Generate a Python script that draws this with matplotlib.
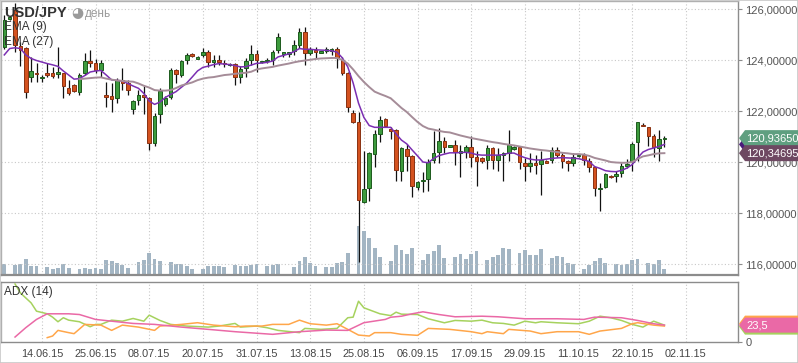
import matplotlib
matplotlib.use("Agg")
import matplotlib.pyplot as plt
from matplotlib.patches import Polygon
from matplotlib.transforms import blended_transform_factory
import numpy as np

plt.rcParams['font.family'] = ['Liberation Sans', 'DejaVu Sans']

W, H = 798, 363

# daily candles USD/JPY, bar 0 .. 123
opens = [124.51, 125.62, 125.95, 124.55, 124.46, 123.32, 123.50, 123.28, 123.50, 123.48,
         123.45, 123.48, 122.89, 123.02, 122.76, 123.50, 123.97, 123.90, 123.61, 122.63,
         122.59, 122.50, 123.22, 123.11, 122.07, 122.43, 122.63, 122.50, 120.75, 121.88,
         122.26, 122.56, 123.61, 123.41, 124.00, 124.22, 124.05, 124.20, 124.33, 123.93,
         124.00, 123.90, 123.80, 123.84, 123.35, 123.67, 124.00, 124.24, 123.94, 123.96,
         124.00, 124.39, 124.23, 124.24, 124.36, 124.59, 125.09, 124.26, 124.39, 124.29,
         124.37, 124.35, 124.42, 124.00, 123.48, 121.91, 121.58, 118.44, 119.00, 120.31,
         121.10, 121.69, 121.30, 121.25, 119.66, 120.50, 120.24, 119.01, 119.25, 119.33,
         120.06, 120.40, 120.83, 120.60, 120.67, 120.37, 120.40, 120.60, 120.21, 120.14,
         120.08, 120.54, 120.08, 120.27, 120.37, 120.52, 120.58, 119.98, 119.86, 119.98,
         119.91, 120.05, 120.08, 120.47, 120.27, 120.05, 119.97, 120.22, 120.27, 120.05,
         119.79, 118.93, 119.01, 119.47, 119.46, 119.58, 119.84, 120.00, 120.77, 121.47,
         121.36, 121.02, 120.54, 120.91]
highs = [125.75, 125.72, 126.25, 124.70, 124.52, 124.13, 123.88, 123.41, 123.90, 123.74,
         124.52, 123.48, 123.22, 123.04, 123.48, 124.26, 124.39, 124.03, 124.00, 123.15,
         123.09, 123.30, 123.67, 123.22, 122.43, 122.82, 123.00, 122.56, 121.91, 122.89,
         122.60, 123.67, 123.64, 124.00, 124.26, 124.26, 124.14, 124.46, 124.39, 124.20,
         124.20, 124.00, 123.87, 123.87, 123.75, 124.07, 124.59, 124.39, 123.98, 124.07,
         124.39, 125.05, 124.33, 124.33, 124.78, 125.24, 125.28, 124.52, 124.52, 124.37,
         124.52, 124.48, 124.52, 124.13, 123.54, 122.04, 121.97, 120.42, 120.41, 121.25,
         121.80, 121.72, 121.38, 121.28, 120.60, 120.71, 120.27, 119.25, 119.60, 120.10,
         121.23, 121.33, 121.00, 120.68, 120.86, 120.67, 120.67, 121.02, 120.43, 120.18,
         120.67, 120.60, 120.54, 120.41, 121.25, 120.62, 120.63, 120.14, 120.37, 120.27,
         120.43, 120.08, 120.57, 120.58, 120.37, 120.08, 120.35, 120.30, 120.34, 120.14,
         119.82, 119.16, 119.58, 119.50, 119.66, 119.95, 120.11, 120.77, 121.58, 121.52,
         121.38, 121.09, 121.25, 121.02]
lows = [124.45, 125.58, 124.30, 123.75, 122.50, 123.15, 123.15, 123.15, 123.32, 123.28,
        123.28, 122.50, 122.63, 122.76, 122.63, 123.41, 123.74, 123.48, 123.33, 122.17,
        121.97, 122.30, 122.82, 122.63, 121.88, 122.24, 121.90, 120.47, 120.63, 121.52,
        122.20, 122.46, 123.09, 123.35, 123.85, 124.13, 124.02, 124.13, 123.74, 123.74,
        123.80, 123.74, 123.78, 123.02, 123.10, 123.35, 123.80, 123.54, 123.90, 123.88,
        123.80, 124.26, 124.10, 124.10, 124.20, 124.46, 123.80, 124.20, 124.07, 124.27,
        124.26, 124.20, 123.67, 123.41, 121.97, 121.52, 116.09, 118.40, 118.47, 119.82,
        120.80, 121.38, 120.89, 119.27, 119.27, 119.66, 118.64, 118.90, 118.83, 118.88,
        119.97, 119.97, 120.35, 120.58, 119.88, 119.42, 120.14, 119.82, 119.06, 119.98,
        119.73, 119.73, 119.65, 119.27, 120.04, 120.48, 119.73, 119.27, 119.62, 119.53,
        118.71, 119.95, 119.95, 120.18, 119.78, 119.66, 119.86, 120.20, 119.90, 119.62,
        118.67, 118.09, 118.97, 119.38, 119.20, 119.42, 119.75, 119.65, 120.02, 121.40,
        120.64, 120.21, 120.05, 120.60]
closes = [125.57, 125.68, 124.60, 124.40, 122.76, 123.57, 123.44, 123.35, 123.41, 123.38,
          123.54, 122.98, 122.72, 122.80, 123.41, 123.96, 123.90, 123.61, 123.90, 122.56,
          122.48, 123.22, 123.11, 122.82, 122.39, 122.63, 122.56, 120.73, 121.82, 122.78,
          122.52, 123.61, 123.44, 123.96, 124.20, 124.17, 124.12, 124.33, 123.93, 124.00,
          123.93, 123.83, 123.85, 123.32, 123.64, 123.96, 124.24, 124.00, 123.96, 124.00,
          124.33, 124.89, 124.30, 124.30, 124.59, 125.09, 124.26, 124.42, 124.33, 124.35,
          124.42, 124.42, 124.07, 123.48, 122.15, 121.58, 118.51, 118.94, 120.34, 121.10,
          121.65, 121.40, 121.23, 119.69, 120.54, 120.24, 119.07, 119.20, 119.30, 120.00,
          120.35, 120.83, 120.60, 120.65, 120.40, 120.43, 120.60, 120.21, 120.05, 120.04,
          120.54, 120.08, 120.27, 120.34, 120.67, 120.60, 120.01, 119.86, 119.98, 119.90,
          120.08, 119.97, 120.47, 120.27, 120.05, 119.97, 120.18, 120.27, 120.08, 119.82,
          118.97, 119.00, 119.53, 119.40, 119.53, 119.84, 119.92, 120.71, 121.56, 121.40,
          121.03, 120.58, 120.89, 120.9365]
volume = [11.3, 0, 10, 11, 16, 9, 9, 0, 8, 6,
          7, 11, 7, 0, 6, 7, 6, 7, 6, 15,
          14, 12, 10, 7, 0, 13, 15, 22, 16, 14,
          0, 13, 11, 11, 9, 6, 0, 6, 9, 9,
          9, 8, 0, 10, 9, 9, 10, 11, 0, 9,
          10, 11, 1, 0, 8, 14, 18, 12, 9, 0,
          8, 8, 12, 13, 22, 0, 49, 44, 37, 27,
          18, 0, 14, 30, 25, 21, 27, 0, 15, 21,
          24, 30, 17, 0, 18, 21, 16, 21, 24, 0,
          15, 18, 20, 27, 26, 0, 22, 25, 20, 20,
          26, 1, 17, 19, 18, 12, 11, 1, 6, 10,
          14, 17, 12, 0, 11, 10, 11, 15, 16, 0,
          12, 11, 15, 6]

ema9 = [124.20, 124.45, 124.48, 124.45, 124.20, 124.06, 123.98, 123.92, 123.86, 123.81,
        123.75, 123.57, 123.41, 123.25, 123.27, 123.39, 123.53, 123.57, 123.59, 123.41,
        123.22, 123.20, 123.18, 123.08, 122.98, 122.89, 122.69, 122.39, 122.26, 122.35,
        122.53, 122.65, 122.76, 122.93, 123.10, 123.33, 123.57, 123.71, 123.76, 123.82,
        123.86, 123.84, 123.82, 123.78, 123.73, 123.74, 123.80, 123.87, 123.88, 123.91,
        123.96, 124.12, 124.18, 124.24, 124.33, 124.45, 124.42, 124.42, 124.40, 124.39,
        124.38, 124.36, 124.31, 124.08, 123.73, 123.10, 122.31, 121.75, 121.43, 121.36,
        121.36, 121.36, 121.36, 121.10, 120.86, 120.71, 120.47, 120.24, 120.00, 119.97,
        120.14, 120.25, 120.31, 120.36, 120.36, 120.37, 120.38, 120.35, 120.29, 120.27,
        120.27, 120.27, 120.27, 120.29, 120.35, 120.35, 120.25, 120.17, 120.11, 120.08,
        120.08, 120.11, 120.14, 120.16, 120.17, 120.16, 120.15, 120.13, 120.08, 120.02,
        119.82, 119.75, 119.66, 119.63, 119.62, 119.67, 119.76, 119.90, 120.16, 120.39,
        120.49, 120.55, 120.61, 120.69]
ema27_start = 14
ema27 = [123.25, 123.27, 123.29, 123.31, 123.32, 123.27, 123.23, 123.20, 123.18, 123.16,
         123.15, 123.08, 122.99, 122.92, 122.82, 122.80, 122.80, 122.82, 122.90, 123.00,
         123.06, 123.12, 123.21, 123.27, 123.31, 123.33, 123.37, 123.41, 123.43, 123.46,
         123.48, 123.50, 123.54, 123.63, 123.67, 123.70, 123.73, 123.78, 123.82, 123.86,
         123.91, 123.95, 123.98, 124.01, 124.04, 124.06, 124.07, 124.08, 124.08, 124.00,
         123.86, 123.63, 123.37, 123.14, 122.94, 122.76, 122.67, 122.59, 122.50, 122.31,
         122.12, 121.96, 121.76, 121.57, 121.41, 121.31, 121.27, 121.22, 121.18, 121.16,
         121.10, 121.04, 120.99, 120.94, 120.90, 120.86, 120.82, 120.78, 120.75, 120.71,
         120.68, 120.65, 120.61, 120.57, 120.53, 120.50, 120.47, 120.45, 120.42, 120.39,
         120.36, 120.34, 120.31, 120.31, 120.29, 120.24, 120.16, 120.11, 120.06, 120.00,
         119.98, 119.97, 119.97, 120.00, 120.12, 120.22, 120.26, 120.31, 120.34, 120.34695]

# ADX(14) panel, read at (bar, value)
adx_green_bar = [2, 3, 5, 6, 8, 9, 10, 11, 12, 14, 16, 17, 18, 20, 22, 24, 26, 27, 29, 31,
                 34, 38, 40, 43, 44, 47, 49, 51, 55, 56, 59, 62, 64, 65, 66, 67, 70, 72, 73, 74,
                 77, 79, 82, 84, 87, 89, 91, 93, 95, 97, 99, 100, 103, 107, 109, 111, 113, 115, 117, 119,
                 121, 123]
adx_green = [79.8, 67.5, 53.9, 42.6, 39.0, 34.4, 28.1, 33.6, 30.3, 28.1, 21.3, 24.5, 24.5, 30.3, 28.9, 32.6, 28.9, 37.1, 29.9, 24.5,
             22.2, 20.8, 22.2, 25.8, 20.8, 22.2, 19.9, 16.3, 13.2, 19.0, 17.7, 19.0, 33.6, 34.4, 56.2, 47.2, 39.0, 36.5, 41.2, 38.5,
             38.0, 32.2, 26.7, 29.9, 28.9, 30.3, 26.7, 25.8, 23.5, 28.9, 26.7, 28.1, 26.7, 25.4, 28.9, 35.7, 33.6, 29.9, 24.5, 20.8,
             28.9, 23.5]
adx_pink_bar = [2, 4, 6, 8, 12, 14, 17, 20, 24, 28, 33, 38, 43, 50, 55, 60, 64, 67, 71, 72,
                74, 76, 78, 81, 84, 89, 92, 97, 103, 108, 110, 115, 118, 121, 123]
adx_pink = [7.2, 20.0, 31.3, 39.0, 39.0, 38.0, 31.3, 28.9, 25.8, 24.5, 20.8, 17.7, 14.5, 10.9, 14.5, 16.7, 16.3, 26.8, 31.3, 34.3,
            35.7, 39.0, 41.7, 38.0, 34.9, 35.7, 34.9, 32.2, 32.2, 31.3, 34.4, 33.6, 29.9, 25.4, 23.5]
adx_orange_bar = [8, 9, 10, 12, 13, 15, 18, 20, 22, 25, 28, 29, 33, 36, 39, 43, 45, 48, 50, 53,
                  55, 57, 60, 62, 64, 66, 68, 69, 72, 74, 77, 79, 83, 87, 89, 90, 93, 94, 98, 100,
                  103, 107, 109, 111, 115, 117, 118, 121, 123]
adx_orange = [6.4, 8.6, 16.3, 13.2, 11.8, 24.5, 23.5, 16.3, 23.5, 20.8, 16.3, 22.2, 24.5, 26.8, 23.5, 21.3, 22.2, 22.2, 24.5, 24.5,
              30.3, 25.4, 23.5, 25.4, 17.7, 9.9, 8.6, 13.2, 13.2, 10.9, 9.5, 19.0, 17.7, 14.5, 11.8, 14.5, 11.8, 17.7, 15.4, 11.8,
              14.5, 14.5, 10.9, 15.4, 19.0, 25.4, 26.8, 23.5, 22.2]

date_labels = ['14.06.15', '25.06.15', '08.07.15', '20.07.15', '31.07.15', '13.08.15', '25.08.15',
               '06.09.15', '17.09.15', '29.09.15', '11.10.15', '22.10.15', '02.11.15']
date_bars = list(range(7, 7 + 10 * len(date_labels), 10))
price_ticks = [116, 118, 120, 122, 124, 126]

# colours
UP, UP_EDGE = '#3d9b3d', '#1c5a1c'
DN, DN_EDGE = '#d4521f', '#8a3212'
GRID = '#c8c8c8'
SPINE = '#8c8c8c'
TXT = '#444444'

fig = plt.figure(figsize=(W / 100, H / 100), dpi=100)
fig.patch.set_facecolor('white')

main_rect = [1 / W, 1 - 275.3 / H, 737.3 / W, 274.3 / H]
adx_rect = [1 / W, 1 - 342.3 / H, 737.3 / W, 60.6 / H]
xlim = (-0.615, 136.77)

# volume axis (behind), main candle axis on top
axv = fig.add_axes(main_rect)
ax = fig.add_axes(main_rect, sharex=axv)
ax.patch.set_alpha(0)

x = np.arange(len(closes))
axv.bar(x, volume, width=0.72, color='#a3b5c3', zorder=2)
axv.set_ylim(0, 274.3)
axv.set_xlim(*xlim)
axv.set_yticks([])
for b in date_bars:
    axv.axvline(b, color=GRID, lw=0.8, ls=(0, (1, 2)), zorder=1)
for s in axv.spines.values():
    s.set_visible(False)
axv.tick_params(bottom=False, labelbottom=False)

ax.set_ylim(115.557, 126.314)
for t in price_ticks:
    ax.axhline(t, color=GRID, lw=0.8, ls=(0, (1, 2)), zorder=1)

o = np.array(opens); c = np.array(closes)
up = c >= o
ax.vlines(x, lows, highs, color='#111111', lw=0.9, zorder=3)
body_lo = np.minimum(o, c)
body_h = np.maximum(np.abs(c - o), 0.03)
ax.bar(x[up], body_h[up], bottom=body_lo[up], width=0.66, color=UP,
       edgecolor=UP_EDGE, lw=0.7, zorder=4)
ax.bar(x[~up], body_h[~up], bottom=body_lo[~up], width=0.66, color=DN,
       edgecolor=DN_EDGE, lw=0.7, zorder=4)

ax.plot(x, ema9, color='#7b2fb2', lw=1.1, zorder=5)
ax.plot(np.arange(ema27_start, ema27_start + len(ema27)), ema27, color='#a58c98', lw=1.4, zorder=5)

ax.set_xlim(*xlim)
ax.yaxis.tick_right()
ax.set_yticks(price_ticks)
ax.set_yticklabels([f'{t:.5f}'.replace('.', ',') for t in price_ticks])
ax.tick_params(axis='y', direction='out', length=3, width=0.8, color=SPINE,
               labelsize=8, labelcolor='#555555', pad=2)
ax.tick_params(axis='x', bottom=False, labelbottom=False)
for name, s in ax.spines.items():
    s.set_color(SPINE)
    s.set_linewidth(1.0)
ax.spines['top'].set_color('#b0b0b0')
ax.spines['left'].set_color('#b0b0b0')
ax.spines['bottom'].set_linewidth(1.6)

# ADX panel
axa = fig.add_axes(adx_rect)
axa.set_xlim(*xlim)
axa.set_ylim(0, 82.9)
for b in date_bars:
    axa.axvline(b, color=GRID, lw=0.8, ls=(0, (1, 2)), zorder=1)
axa.plot(adx_green_bar, adx_green, color='#a6d25e', lw=1.1, zorder=3)
axa.plot(adx_pink_bar, adx_pink, color='#ea69a6', lw=1.1, zorder=4)
axa.plot(adx_orange_bar, adx_orange, color='#ffa64a', lw=1.1, zorder=3)
axa.set_xticks(date_bars)
axa.set_xticklabels(date_labels)
axa.tick_params(axis='x', length=0, labelsize=7.8, labelcolor=TXT, pad=5)
axa.yaxis.tick_right()
axa.set_yticks([0])
axa.tick_params(axis='y', direction='out', length=3, width=0.8, color=SPINE,
                labelsize=8, labelcolor='#555555', pad=2)
for s in axa.spines.values():
    s.set_color(SPINE)
    s.set_linewidth(1.0)
axa.spines['left'].set_color('#b0b0b0')


def tag(axis, value, text, color, h_px=16, dy_px=0, zorder=10):
    tr = blended_transform_factory(fig.transFigure, axis.transData)
    lo, hi = axis.get_ylim()
    ax_h = axis.get_position().height * H
    per_px = (hi - lo) / ax_h
    v = value + dy_px * per_px
    h = h_px / 2 * per_px
    pts = [(739 / W, v), (745 / W, v + h), (1.0, v + h), (1.0, v - h), (745 / W, v - h)]
    fig.add_artist(Polygon(pts, closed=True, transform=tr, fc=color, ec='none',
                           zorder=zorder))
    if text:
        fig.text(746 / W, v, text, transform=tr, color='white', fontsize=8,
                 va='center', ha='left', zorder=zorder + 1)


tag(ax, ema9[-1], '', '#4b1a7a', zorder=10)
tag(ax, closes[-1], f'{closes[-1]:.5f}'.replace('.', ','), '#5f9f80', zorder=12)
tag(ax, ema27[-1], f'{ema27[-1]:.5f}'.replace('.', ','), '#6e4862', zorder=14)
tag(axa, adx_pink[-1], '', '#a6d25e', dy_px=-1.5, zorder=10)
tag(axa, adx_pink[-1], '', '#ffa64a', dy_px=1.5, zorder=11)
tag(axa, adx_pink[-1], f'{adx_pink[-1]:.1f}'.replace('.', ','), '#ea69a6', h_px=15, zorder=12)

# headers
fig.text(4 / W, 1 - 13 / H, 'USD/JPY', fontsize=10.5, fontweight='bold', color='#333333', va='center')
fig.text(71 / W, 1 - 13 / H, '\u25d5', fontsize=10, color='#9a9a9a', va='center',
         family=['DejaVu Sans'])
fig.text(85 / W, 1 - 13.5 / H, 'день', fontsize=8.5, color='#9a9a9a', va='center')
fig.text(4 / W, 1 - 27 / H, 'EMA (9)', fontsize=8.5, color='#333333', va='center')
fig.text(4 / W, 1 - 42 / H, 'EMA (27)', fontsize=8.5, color='#333333', va='center')
fig.text(4 / W, 1 - 292 / H, 'ADX (14)', fontsize=8.5, color='#333333', va='center')

fig.patches.append(plt.Rectangle((0, 0), 1, 1, transform=fig.transFigure, fill=False,
                                 ec='#c8c8c8', lw=1.2, zorder=0))

fig.savefig('out.png', dpi=100)
